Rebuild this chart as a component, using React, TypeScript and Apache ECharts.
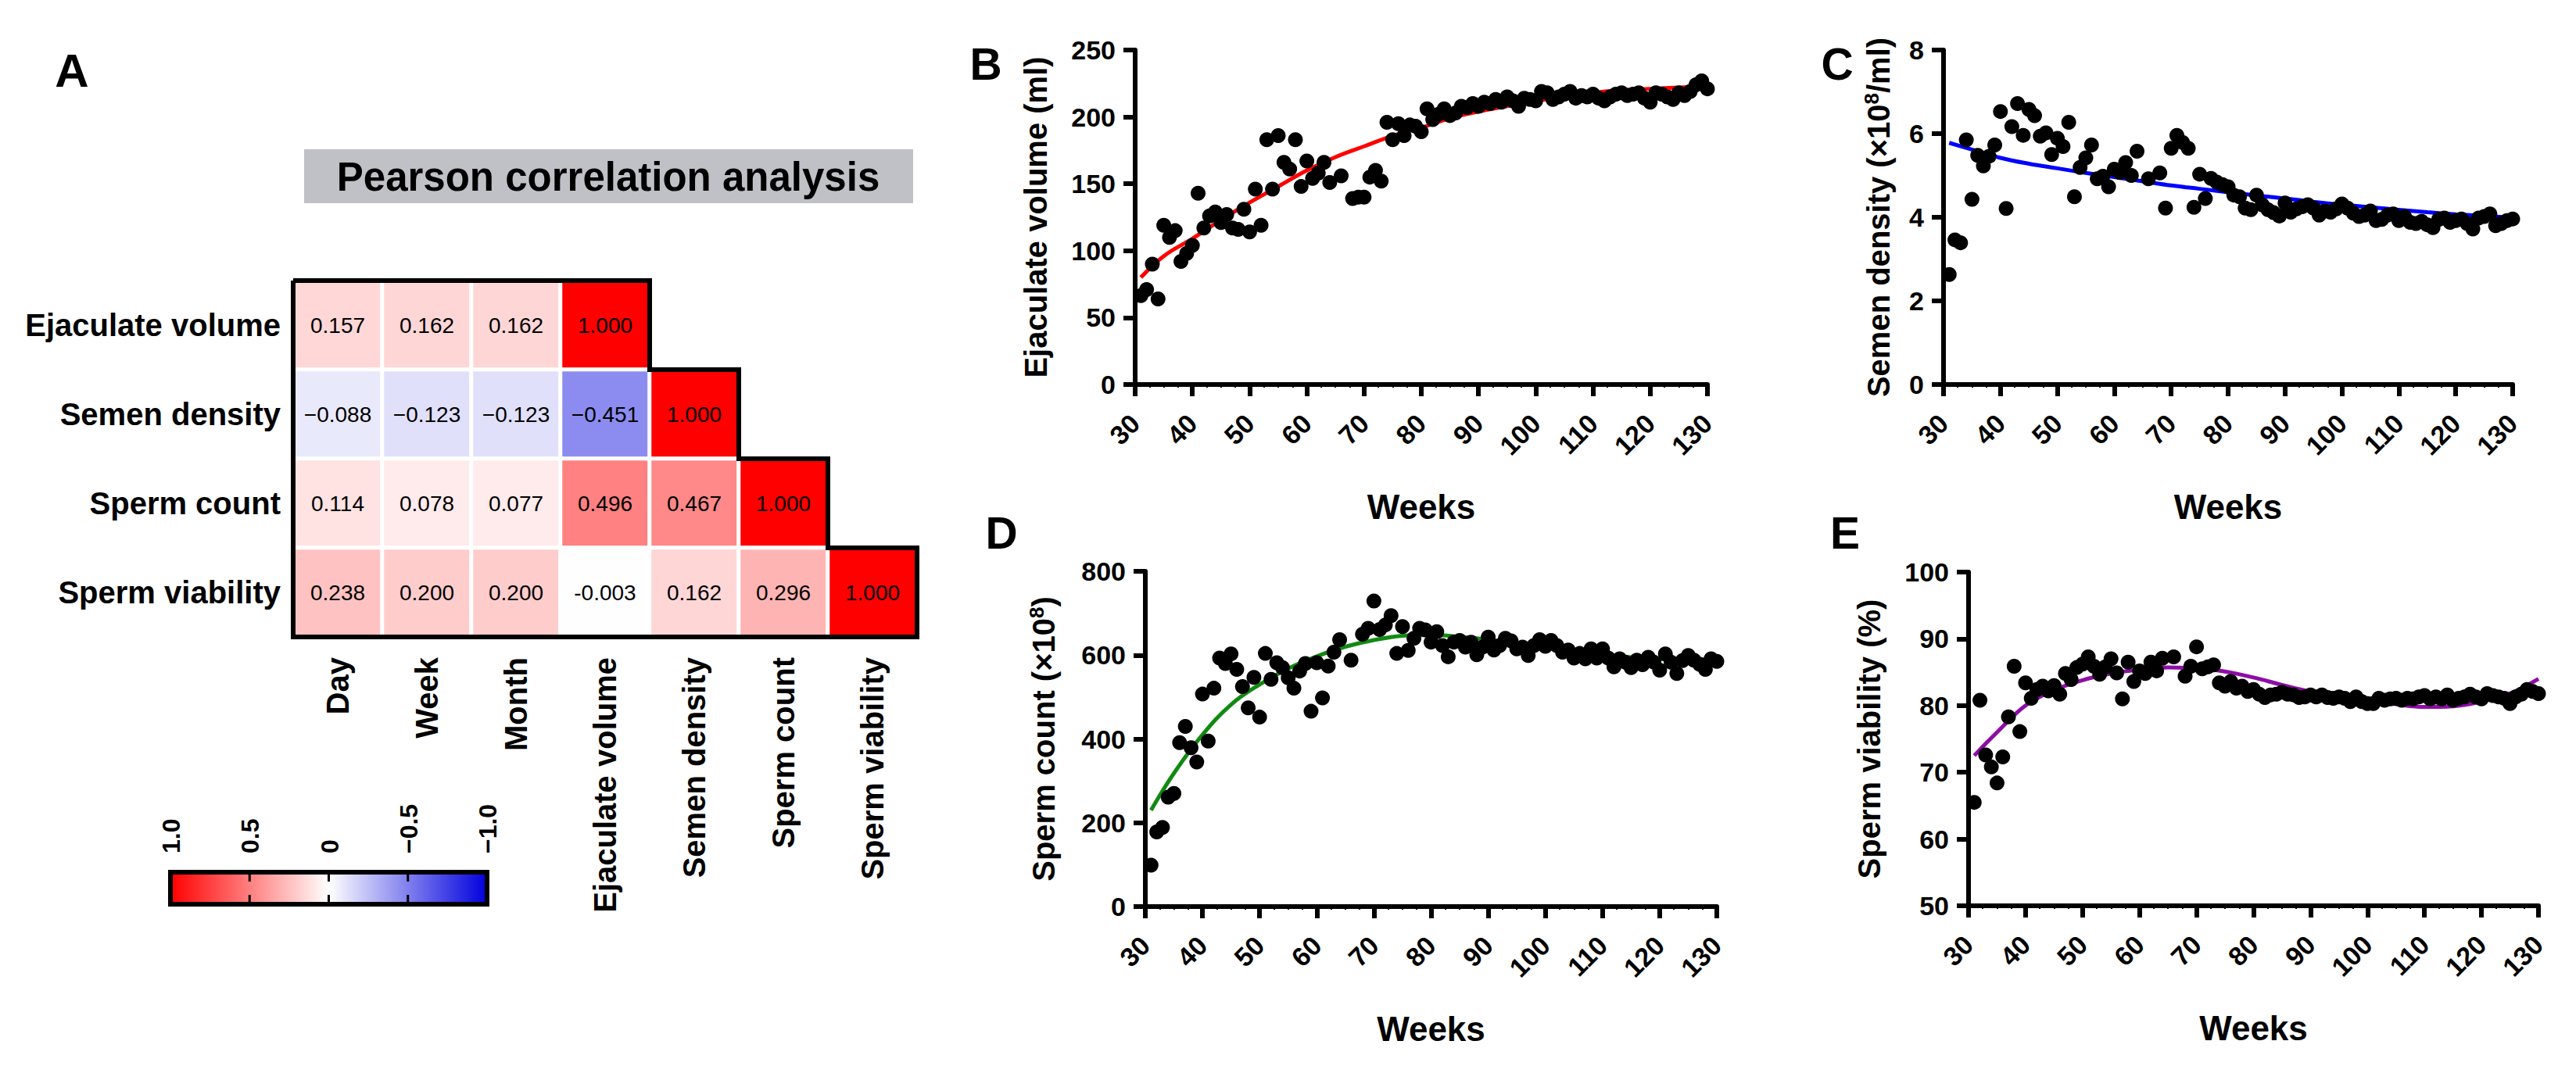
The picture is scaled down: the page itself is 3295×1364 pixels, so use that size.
import React, { useEffect, useRef } from 'react';
import * as echarts from 'echarts';

const FONT = '"Liberation Sans", Arial, Helvetica, sans-serif';

// ---------- Panel A: Pearson correlation ----------
const corrCols = ['Day', 'Week', 'Month', 'Ejaculate volume', 'Semen density', 'Sperm count', 'Sperm viability'];
const corrRows = ['Ejaculate volume', 'Semen density', 'Sperm count', 'Sperm viability'];
const corrValues = [
  [0.157, 0.162, 0.162, 1.0],
  [-0.088, -0.123, -0.123, -0.451, 1.0],
  [0.114, 0.078, 0.077, 0.496, 0.467, 1.0],
  [0.238, 0.2, 0.2, -0.003, 0.162, 0.296, 1.0],
];
const corrLabels = [
  ['0.157', '0.162', '0.162', '1.000'],
  ['\u22120.088', '\u22120.123', '\u22120.123', '\u22120.451', '1.000'],
  ['0.114', '0.078', '0.077', '0.496', '0.467', '1.000'],
  ['0.238', '0.200', '0.200', '-0.003', '0.162', '0.296', '1.000'],
];
const colorbarTickValues = [1, 0.5, 0, -0.5, -1];
const colorbarTickLabels = ['1.0', '0.5', '0', '\u22120.5', '\u22121.0'];

// ---------- Panels B–E: weekly measurements ----------
const weeks = [
  31, 32, 33, 34, 35, 36, 37, 38, 39, 40, 41, 42, 43, 44, 45, 46, 47, 48, 49, 50,
  51, 52, 53, 54, 55, 56, 57, 58, 59, 60, 61, 62, 63, 64, 66, 68, 69, 70, 71, 72,
  73, 74, 75, 76, 77, 78, 79, 80, 81, 82, 83, 84, 85, 86, 87, 88, 89, 90, 91, 92,
  93, 94, 95, 96, 97, 98, 99, 100, 101, 102, 103, 104, 105, 106, 107, 108, 109, 110, 111, 112,
  113, 114, 115, 116, 117, 118, 119, 120, 121, 122, 123, 124, 125, 126, 127, 128, 129, 130,
];
const ejaculateVolume = [
  66.5, 71, 90, 64, 119, 110, 115, 92, 98, 104, 143, 117, 126, 129, 121, 127, 117, 116, 131, 114,
  146, 119, 183, 146, 186, 166, 161, 183, 148, 167, 154, 158, 166, 151, 156, 139, 140, 140, 155, 160,
  152, 196, 183, 195, 186, 194, 193, 189, 206, 198, 202, 206, 201, 203, 208, 207, 210, 208, 211, 210,
  213, 211, 215, 212, 208, 214, 213, 212, 219, 218, 213, 215, 217, 219, 214, 216, 215, 217, 214, 212,
  215, 217, 218, 216, 217, 218, 214, 211, 218, 217, 215, 213, 218, 216, 219, 224, 227, 221,
];
const semenDensity = [
  2.63, 3.46, 3.39, 5.85, 4.43, 5.48, 5.23, 5.46, 5.73, 6.53, 4.21, 6.17, 6.72, 5.96, 6.58, 6.43, 5.94, 6.02, 5.5, 5.89,
  5.69, 6.27, 4.49, 5.19, 5.42, 5.73, 4.92, 4.98, 4.73, 5.15, 5.07, 5.31, 5.0, 5.58, 4.92, 5.06, 4.22, 5.65, 5.96, 5.79,
  5.65, 4.24, 5.03, 4.45, 4.93, 4.84, 4.78, 4.73, 4.53, 4.49, 4.22, 4.18, 4.53, 4.3, 4.18, 4.11, 4.03, 4.34, 4.12, 4.2,
  4.25, 4.3, 4.22, 4.05, 4.15, 4.12, 4.2, 4.32, 4.22, 4.1, 4.02, 4.05, 4.15, 3.92, 3.95, 4.05, 4.08, 3.92, 4.02, 3.88,
  3.85, 3.9, 3.82, 3.75, 3.95, 3.98, 3.88, 3.92, 3.96, 3.85, 3.72, 3.98, 4.02, 4.08, 3.8, 3.85, 3.92, 3.96,
];
const spermCount = [
  99, 178, 189, 261, 270, 391, 430, 379, 345, 507, 395, 521, 593, 580, 603, 566, 525, 474, 547, 452,
  604, 542, 582, 570, 546, 521, 562, 580, 466, 582, 498, 574, 607, 637, 588, 650, 664, 729, 661, 672,
  694, 604, 668, 611, 640, 664, 660, 631, 656, 623, 596, 631, 635, 619, 631, 601, 619, 643, 612, 623,
  640, 634, 615, 619, 599, 623, 637, 621, 635, 623, 607, 612, 593, 604, 591, 615, 593, 615, 593, 572,
  591, 583, 570, 588, 577, 595, 583, 564, 603, 583, 556, 587, 599, 588, 578, 566, 591, 585,
];
const spermViability = [
  65.5, 80.8, 72.6, 70.8, 68.4, 72.3, 78.3, 85.9, 76.1, 83.4, 81.1, 82.4, 82.9, 82.2, 83.0, 81.7, 84.8, 83.9, 85.7, 86.2,
  87.3, 85.9, 84.7, 85.8, 87.0, 84.9, 81.0, 86.5, 83.6, 85.2, 84.8, 86.5, 85.2, 87.1, 87.3, 84.4, 85.9, 88.8, 85.5, 85.8,
  86.1, 83.4, 82.9, 83.6, 82.6, 82.9, 82.1, 82.4, 81.7, 81.2, 81.6, 81.7, 82.0, 81.7, 81.6, 81.2, 81.3, 81.6, 81.3, 81.6,
  81.2, 81.1, 81.3, 81.1, 80.6, 81.3, 80.6, 80.3, 80.3, 81.1, 80.8, 81.0, 81.1, 80.8, 81.1, 81.0, 81.3, 81.5, 81.0, 81.3,
  81.0, 81.6, 80.8, 81.1, 81.3, 81.7, 81.3, 81.0, 81.8, 81.5, 81.3, 81.1, 80.3, 81.3, 81.7, 82.4, 82.1, 81.8,
];

// fitted curves
const fitWeeks = [31, 35, 40, 45, 50, 55, 60, 65, 70, 75, 80, 85, 90, 95, 100, 105, 110, 115, 120, 125, 130];
const fitVolume = [80, 96, 109, 123, 136, 148, 160, 170, 178, 186, 192, 199, 204, 208, 212, 215, 218, 220, 221, 222, 223];
const fitDensity = [5.78, 5.62, 5.42, 5.28, 5.17, 5.06, 4.96, 4.86, 4.76, 4.68, 4.6, 4.52, 4.45, 4.37, 4.3, 4.24, 4.18, 4.12, 4.07, 4.03, 3.99];
const fitCount = [230, 318, 410, 482, 530, 568, 597, 620, 636, 646, 648, 644, 637, 628, 619, 610, 601, 595, 590, 589, 590];
const fitViability = [72.5, 76.0, 80.0, 82.3, 83.8, 84.8, 85.4, 85.7, 85.6, 85.1, 84.2, 83.1, 82.1, 81.4, 80.8, 80.2, 79.8, 79.9, 80.6, 81.8, 84.0];

const weekTicks = { min: 30, max: 130, interval: 10 };

function buildOption() {
  const panels = [
    { grid: { left: 1452, top: 64, width: 732, height: 428 }, y: ejaculateVolume, fit: fitVolume, color: '#FF0000', min: 0, max: 250, interval: 50, name: 'Ejaculate volume (ml)', gap: 105 },
    { grid: { left: 2486, top: 64, width: 728, height: 428 }, y: semenDensity, fit: fitDensity, color: '#0000FF', min: 0, max: 8, interval: 2, name: '{a|Semen density (\u00d710}{s|8}{a|/ml)}', gap: 61 },
    { grid: { left: 1465, top: 731, width: 731, height: 429 }, y: spermCount, fit: fitCount, color: '#118A11', min: 0, max: 800, interval: 200, name: '{a|Sperm count (\u00d710}{s|8}{a|)}', gap: 108 },
    { grid: { left: 2518, top: 732, width: 729, height: 427 }, y: spermViability, fit: fitViability, color: '#8E0DA6', min: 50, max: 100, interval: 10, name: 'Sperm viability (%)', gap: 105 },
  ];

  const heatData: any[] = [];
  corrValues.forEach((row, r) => row.forEach((v, c) => heatData.push([c, r, v])));

  const grids: any[] = [{ left: 375, top: 359, width: 798, height: 456 }];
  const xAxes: any[] = [
    {
      type: 'category', gridIndex: 0, data: corrCols, position: 'bottom',
      axisLine: { show: false }, axisTick: { show: false }, splitLine: { show: false },
      axisLabel: { rotate: 90, interval: 0, margin: 26, color: '#000', fontFamily: FONT, fontWeight: 'bold', fontSize: 40 },
    },
  ];
  const yAxes: any[] = [
    {
      type: 'category', gridIndex: 0, data: corrRows, inverse: true,
      axisLine: { show: false }, axisTick: { show: false }, splitLine: { show: false },
      axisLabel: { interval: 0, margin: 16, color: '#000', fontFamily: FONT, fontWeight: 'bold', fontSize: 40 },
    },
  ];
  const series: any[] = [
    {
      type: 'heatmap', xAxisIndex: 0, yAxisIndex: 0, data: heatData,
      itemStyle: { borderColor: '#FFFFFF', borderWidth: 5 },
      label: {
        show: true, color: '#000', fontFamily: FONT, fontSize: 28,
        formatter: (p: any) => corrLabels[p.data[1]][p.data[0]],
      },
      emphasis: { disabled: true },
    },
    {
      type: 'custom', xAxisIndex: 0, yAxisIndex: 0, data: [[0, 0]], silent: true, z: 10,
      encode: { x: 0, y: 1 },
      renderItem: (_params: any, api: any) => {
        const size = api.size([1, 1]);
        const hw = size[0] / 2;
        const hh = size[1] / 2;
        const left = (c: number) => api.coord([c, 0])[0] - hw;
        const right = (c: number) => api.coord([c, 0])[0] + hw;
        const top = (r: number) => api.coord([0, r])[1] - hh;
        const bottom = (r: number) => api.coord([0, r])[1] + hh;
        const pts: number[][] = [[left(0), top(0)]];
        corrValues.forEach((row, r) => {
          pts.push([right(row.length - 1), top(r)]);
          pts.push([right(row.length - 1), bottom(r)]);
        });
        pts.push([left(0), bottom(corrValues.length - 1)]);
        pts.push([left(0), top(0)]);
        return {
          type: 'polyline',
          shape: { points: pts },
          style: { fill: null, stroke: '#000', lineWidth: 6, lineJoin: 'miter' },
        };
      },
    },
  ];

  panels.forEach((p, i) => {
    const gi = i + 1;
    grids.push(p.grid);
    xAxes.push({
      type: 'value', gridIndex: gi, ...weekTicks,
      name: 'Weeks', nameLocation: 'middle', nameGap: 134,
      nameTextStyle: { color: '#000', fontFamily: FONT, fontWeight: 'bold', fontSize: 44 },
      axisLine: { show: true, onZero: false, lineStyle: { color: '#000', width: 6 } },
      axisTick: { show: true, length: 15, lineStyle: { color: '#000', width: 6 } },
      minorTick: { show: true, splitNumber: 4, length: 4, lineStyle: { color: '#000', width: 2 } },
      splitLine: { show: false },
      axisLabel: { rotate: 45, margin: 44, color: '#000', fontFamily: FONT, fontWeight: 'bold', fontSize: 34 },
    });
    yAxes.push({
      type: 'value', gridIndex: gi, min: p.min, max: p.max, interval: p.interval,
      name: p.name, nameLocation: 'middle', nameGap: p.gap,
      nameTextStyle: {
        color: '#000', fontFamily: FONT, fontWeight: 'bold', fontSize: 40, lineHeight: 44,
        rich: {
          a: { color: '#000', fontFamily: FONT, fontWeight: 'bold', fontSize: 40, lineHeight: 44 },
          s: { color: '#000', fontFamily: FONT, fontWeight: 'bold', fontSize: 26, lineHeight: 26, verticalAlign: 'top' },
        },
      },
      axisLine: { show: true, onZero: false, lineStyle: { color: '#000', width: 6 } },
      axisTick: { show: true, length: 15, lineStyle: { color: '#000', width: 6 } },
      splitLine: { show: false },
      axisLabel: { margin: 25, color: '#000', fontFamily: FONT, fontWeight: 'bold', fontSize: 34 },
    });
    series.push({
      type: 'line', xAxisIndex: gi, yAxisIndex: gi, z: 2, smooth: 0.4, showSymbol: false, silent: true,
      data: fitWeeks.map((w, k) => [w, p.fit[k]]),
      lineStyle: { color: p.color, width: 5 },
    });
    series.push({
      type: 'scatter', xAxisIndex: gi, yAxisIndex: gi, z: 3, symbol: 'circle', symbolSize: 19,
      data: weeks.map((w, k) => [w, p.y[k]]),
      itemStyle: { color: '#000', opacity: 1 },
    });
  });

  // colour bar (legend for panel A)
  const cb = { x: 218, y: 1116, w: 405, h: 41 };
  const cbX = (v: number) => cb.x + ((1 - v) / 2) * cb.w;
  const graphic: any[] = [
    { type: 'text', x: 92, y: 90, style: { text: 'A', font: `bold 60px ${FONT}`, fill: '#000', textAlign: 'center', textVerticalAlign: 'middle' } },
    { type: 'rect', shape: { x: 389, y: 191, width: 779, height: 69 }, style: { fill: '#C0C0C7' } },
    { type: 'text', x: 778, y: 226, style: { text: 'Pearson correlation analysis', font: `bold 51px ${FONT}`, fill: '#000', textAlign: 'center', textVerticalAlign: 'middle' } },
    { type: 'text', x: 1261, y: 82, style: { text: 'B', font: `bold 57px ${FONT}`, fill: '#000', textAlign: 'center', textVerticalAlign: 'middle' } },
    { type: 'text', x: 2350, y: 82, style: { text: 'C', font: `bold 57px ${FONT}`, fill: '#000', textAlign: 'center', textVerticalAlign: 'middle' } },
    { type: 'text', x: 1281, y: 682, style: { text: 'D', font: `bold 57px ${FONT}`, fill: '#000', textAlign: 'center', textVerticalAlign: 'middle' } },
    { type: 'text', x: 2360, y: 682, style: { text: 'E', font: `bold 57px ${FONT}`, fill: '#000', textAlign: 'center', textVerticalAlign: 'middle' } },
    {
      type: 'rect', shape: { x: cb.x, y: cb.y, width: cb.w, height: cb.h },
      style: {
        fill: { type: 'linear', x: 0, y: 0, x2: 1, y2: 0, colorStops: [
          { offset: 0, color: '#FF0000' }, { offset: 0.5, color: '#FFFFFF' }, { offset: 1, color: '#0000DD' },
        ] },
        stroke: '#000', lineWidth: 6,
      },
    },
  ];
  colorbarTickValues.forEach((v, k) => {
    const x = cbX(v);
    if (k > 0 && k < colorbarTickValues.length - 1) {
      graphic.push({ type: 'line', shape: { x1: x, y1: cb.y, x2: x, y2: cb.y + 12 }, style: { stroke: '#000', lineWidth: 3 } });
      graphic.push({ type: 'line', shape: { x1: x, y1: cb.y + cb.h - 12, x2: x, y2: cb.y + cb.h }, style: { stroke: '#000', lineWidth: 3 } });
    }
    graphic.push({
      type: 'text', x: x + 1, y: 1092, rotation: Math.PI / 2,
      style: { text: colorbarTickLabels[k], font: `bold 32px ${FONT}`, fill: '#000', textAlign: 'left', textVerticalAlign: 'middle' },
    });
  });

  return {
    animation: false,
    backgroundColor: '#FFFFFF',
    textStyle: { fontFamily: FONT },
    grid: grids,
    xAxis: xAxes,
    yAxis: yAxes,
    visualMap: {
      type: 'continuous', show: false, seriesIndex: 0, min: -1, max: 1,
      inRange: { color: ['#0000DD', '#FFFFFF', '#FF0000'] },
    },
    series,
    graphic,
  };
}

export default function App() {
  const ref = useRef<HTMLDivElement>(null);
  useEffect(() => {
    document.body.style.margin = '0';
    const chart = echarts.init(ref.current as HTMLDivElement, null, { renderer: 'svg' });
    chart.setOption(buildOption() as any);
    return () => chart.dispose();
  }, []);
  return <div ref={ref} style={{ width: 3295, height: 1364, background: '#FFFFFF' }} />;
}
